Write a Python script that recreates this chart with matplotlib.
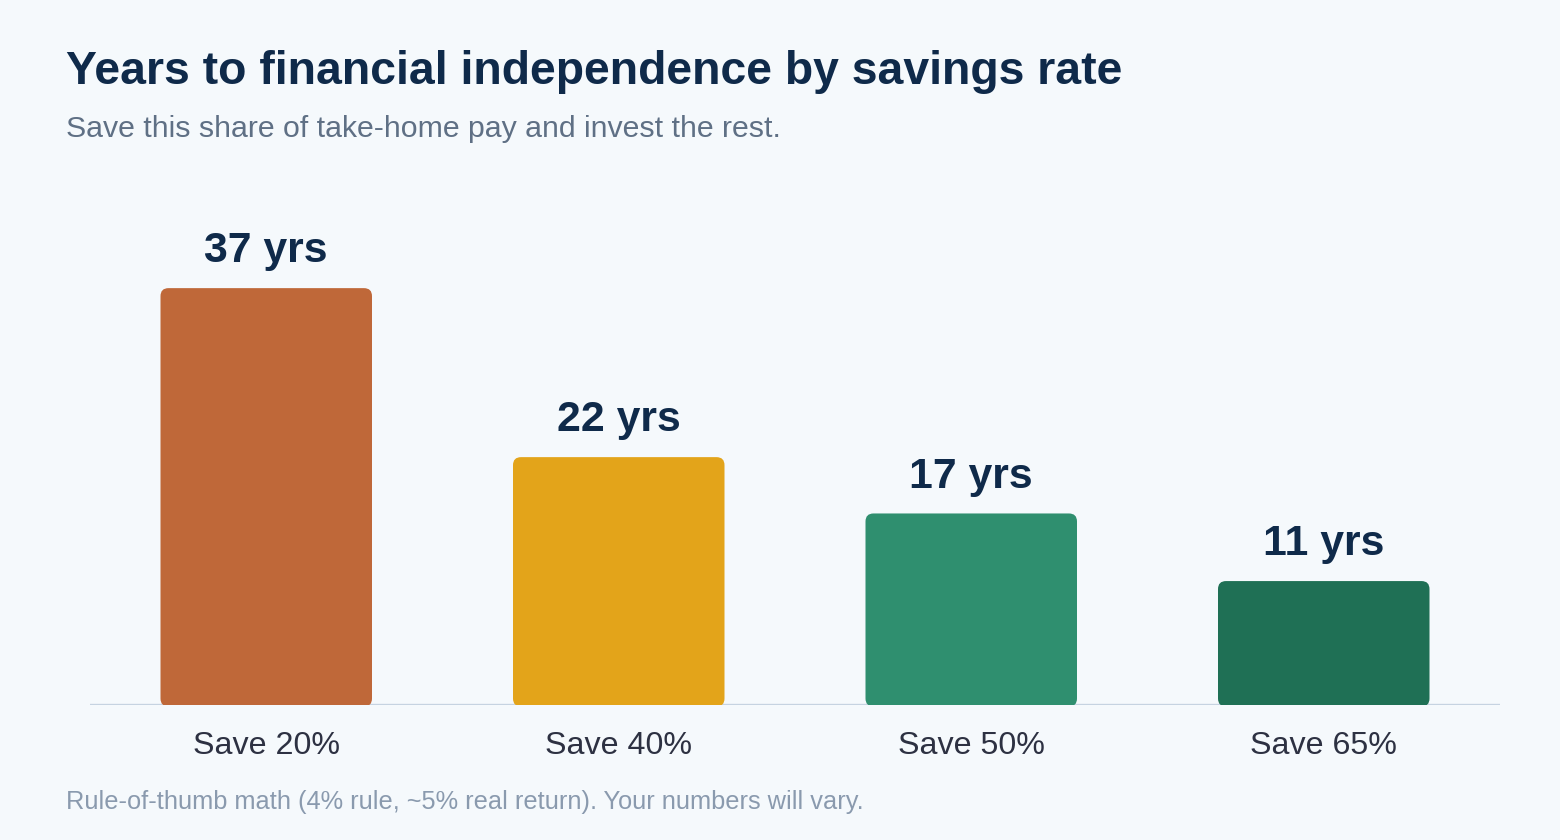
import matplotlib.pyplot as plt
from matplotlib.patches import FancyBboxPatch

# data
categories = ['Save 20%', 'Save 40%', 'Save 50%', 'Save 65%']
years = [37, 22, 17, 11]
bar_colors = ['#BF6839', '#E3A41A', '#2F8F6F', '#1F7055']

bg = '#F5F9FC'
navy = '#0F2A4A'

plt.rcParams['font.family'] = ['Liberation Sans', 'DejaVu Sans']

width = 1560
height = 840
ppi = 100
fig = plt.figure(figsize=(width / ppi, height / ppi), dpi=ppi, facecolor=bg)

# axes placed in pixel terms: x 90..1500, baseline at y=705 px
ax = fig.add_axes([90 / width, 135 / height, 1410 / width, 507 / height])
ax.set_facecolor(bg)
ax.set_xlim(-0.5, 3.5)
ax.set_ylim(0, 45)

x = list(range(len(categories)))
bars = ax.bar(x, years, width=0.6, color=bar_colors)

# swap plain rectangles for rounded ones (radius ~7px)
px_x = 1410 / 4.0          # pixels per x unit
px_y = 507 / 45.0          # pixels per y unit
rad = 8 / px_x
for rect, c in zip(bars.patches, bar_colors):
    rect.set_visible(False)
    fb = FancyBboxPatch((rect.get_x(), rect.get_y() - 1.5 / px_y), rect.get_width(),
                        rect.get_height() + 1.5 / px_y,
                        boxstyle='round,pad=0,rounding_size=%f' % rad,
                        mutation_aspect=px_x / px_y,
                        facecolor=c, edgecolor='none', zorder=3)
    ax.add_patch(fb)

ax.axhline(0, color='#C6D3E1', lw=2.4, zorder=2)

for xi, v in zip(x, years):
    ax.annotate('%d yrs' % v, (xi, v), xytext=(0, 12), textcoords='offset points',
                ha='center', va='bottom', fontsize=30.8, fontweight='bold', color=navy)

for s in ax.spines.values():
    s.set_visible(False)
ax.set_yticks([])
ax.set_xticks(x)
ax.set_xticklabels(categories, fontsize=23.2, color='#2D3142')
ax.tick_params(axis='x', length=0, pad=19)

fig.text(66 / width, 1 - 84 / height, 'Years to financial independence by savings rate',
         fontsize=33.4, fontweight='bold', color=navy, ha='left', va='baseline')
fig.text(66 / width, 1 - 137 / height, 'Save this share of take-home pay and invest the rest.',
         fontsize=21.8, color='#5F7085', ha='left', va='baseline')
fig.text(66 / width, 1 - 809 / height, 'Rule-of-thumb math (4% rule, ~5% real return). Your numbers will vary.',
         fontsize=18.3, color='#8A9AAE', ha='left', va='baseline')

fig.savefig('out.png', dpi=ppi, facecolor=bg)
